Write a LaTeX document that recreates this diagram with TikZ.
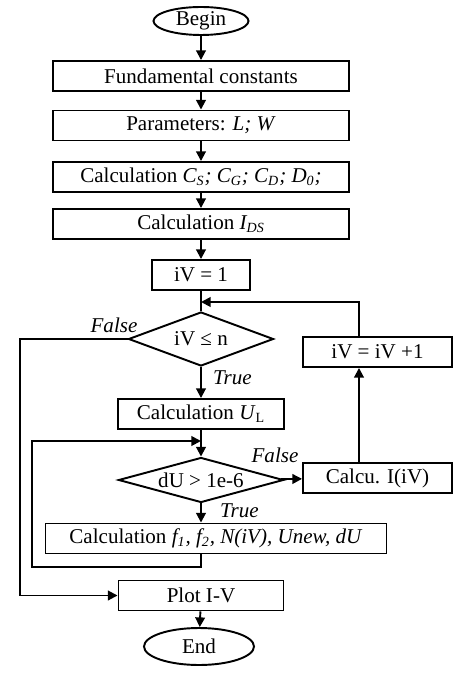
\documentclass[tikz,border=0pt]{standalone}
\usepackage{fontspec}
\setmainfont{Liberation Serif}
\usepackage{tikz}
\usetikzlibrary{shapes.geometric, arrows.meta, positioning, calc}
\newcommand{\pxu}{0.57pt}

\begin{document}
\begin{tikzpicture}[
  x=0.57pt, y=-0.57pt,
  every node/.style={font=\fontsize{12}{14}\selectfont},
  box/.style={draw, line width=1.1pt, minimum height=30*\pxu, inner sep=0pt},
  decision/.style={draw, diamond, line width=1.1pt, inner sep=0pt},
  term/.style={draw, ellipse, line width=1.1pt, inner sep=0pt},
  link/.style={line width=1.1pt},
  arr/.style={line width=1.1pt, -{Triangle[length=5.5pt, width=5.5pt]}},
  lab/.style={font=\fontsize{12}{14}\selectfont\itshape, inner sep=1pt}
]
  \useasboundingbox (0,0) rectangle (474,673);

  % main column
  \node[term, minimum width=95*\pxu, minimum height=28*\pxu] (begin) at (201,21) {Begin};
  \node[box, minimum width=296*\pxu] (fund) at (201,76) {Fundamental constants};
  \node[box, minimum width=296*\pxu] (param) at (201,125.5) {Parameters: \textit{L; W}};
  \node[box, minimum width=296*\pxu] (calcC) at (201,177) {Calculation \textit{C\textsubscript{S}; C\textsubscript{G}; C\textsubscript{D}; D\textsubscript{0};}};
  \node[box, minimum width=296*\pxu] (calcI) at (201,224) {Calculation \textit{I\textsubscript{DS}}};
  \node[box, minimum width=98*\pxu] (init) at (201,275) {iV = 1};
  \node[decision, aspect=2.7, minimum width=145*\pxu, minimum height=54*\pxu] (cond) at (201,339) {iV ≤ n};
  \node[box, minimum width=166*\pxu] (calcU) at (201,414) {Calculation \textit{U}\textsubscript{L}};
  \node[decision, aspect=3.7, minimum width=165*\pxu, minimum height=45*\pxu] (conv) at (201,480) {dU > 1e-6};
  \node[box, minimum width=341*\pxu] (calcF) at (216,538.5) {Calculation \textit{f\textsubscript{1}, f\textsubscript{2}, N(iV), Unew, dU}};
  \node[box, minimum width=165*\pxu] (plot) at (201,595.5) {Plot I-V};
  \node[term, minimum width=110*\pxu, minimum height=37*\pxu] (stop) at (199,646.5) {End};

  % right column
  \node[box, minimum width=149*\pxu] (incr) at (377.5,352) {iV = iV +1};
  \node[box, minimum width=149*\pxu] (calcIV) at (377.5,478) {Calcu. I(iV)};

  % labels
  \node[lab] (falseA) at (114,325) {False};
  \node[lab, anchor=west] (trueA) at (211,378) {True};
  \node[lab] (falseB) at (275,455) {False};
  \node[lab, anchor=west] (trueB) at (218,511) {True};

  \coordinate (riser) at (359,0);
  \coordinate (back1) at (201,302);
  \coordinate (back2) at (201,441);
  \coordinate (outer) at (20,0);
  \coordinate (inner) at (32,567);

  \draw[arr] (begin) -- (fund);
  \draw[arr] (fund) -- (param);
  \draw[arr] (param) -- (calcC);
  \draw[arr] (calcC) -- (calcI);
  \draw[arr] (calcI) -- (init);
  \draw[link] (init) -- (cond);
  \draw[arr] (cond) -- (calcU);
  \draw[arr] (calcU) -- (conv);
  \draw[arr] (conv) -- (conv.south |- calcF.north);
  \draw[arr] (conv) -- (calcIV);
  \draw[arr] (plot) -- (stop);

  % loops
  \draw[arr] (calcIV.north -| riser) -- (incr.south -| riser);
  \draw[arr] (incr.north -| riser) |- (back1);
  \draw[arr] (calcF.south -| back2) |- (inner) |- (back2);
  \draw[arr] (cond.west) -| (outer |- plot.west) -- (plot.west);
\end{tikzpicture}
\end{document}
